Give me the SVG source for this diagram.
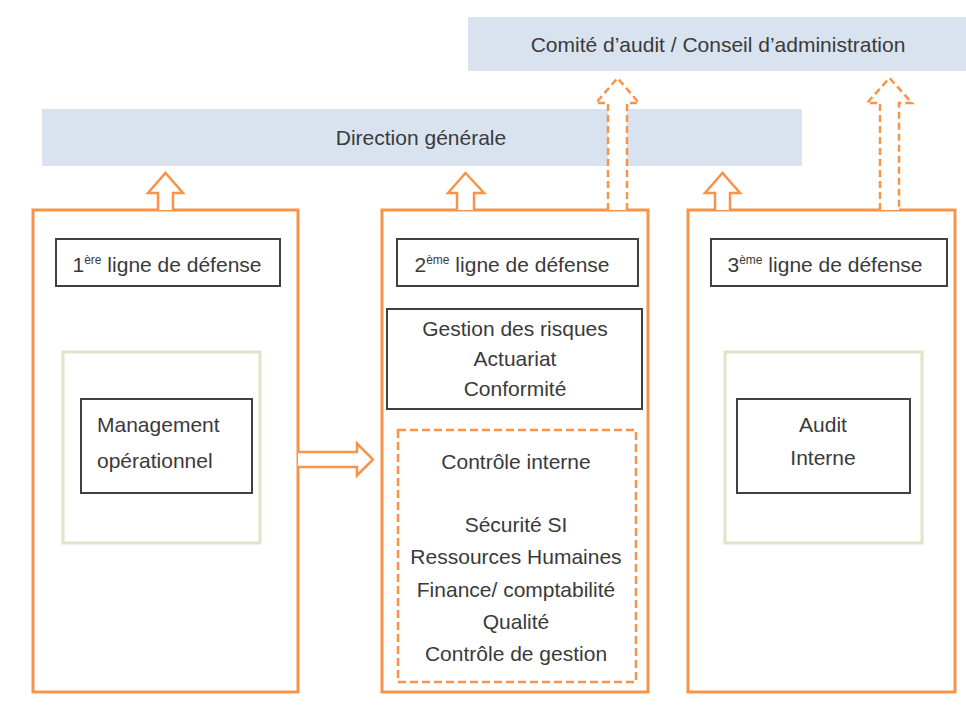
<svg xmlns="http://www.w3.org/2000/svg" width="966" height="709" viewBox="0 0 966 709">
<style>
  text { font-family: "Liberation Sans", Arial, sans-serif; font-size: 21px; fill: #3a3a3a; }
  .c { text-anchor: middle; }
  .bar { fill: #D9E3EF; stroke: none; }
  .col { fill: #ffffff; stroke: #F7944A; stroke-width: 3; }
  .green { fill: #ffffff; stroke: #DCE6C8; stroke-width: 3; }
  .blk { fill: #ffffff; stroke: #404040; stroke-width: 2; }
  .dash { fill: none; stroke: #F7944A; stroke-width: 2.5; stroke-dasharray: 8 4; }
  .arr { fill: #ffffff; stroke: #F7944A; stroke-width: 2.5; stroke-linejoin: miter; }
  .darr { fill: #ffffff; stroke: #F7944A; stroke-width: 2.5; stroke-dasharray: 7 4; }
  .sup { font-size: 12px; }
</style>
<rect width="966" height="709" fill="#ffffff"/>

<g id="comite">
  <rect class="bar" x="468" y="17" width="498" height="54"/>
  <text class="c" x="718" y="52">Comité d’audit / Conseil d’administration</text>
</g>

<g id="direction">
  <rect class="bar" x="42" y="109" width="760" height="57"/>
  <text class="c" x="421" y="145">Direction générale</text>
</g>

<g id="ligne1">
  <rect class="col" x="33" y="210" width="265" height="482"/>
  <rect class="blk" x="56" y="239" width="224" height="47"/>
  <text class="c" x="167" y="272">1<tspan class="sup" dy="-8">ère</tspan><tspan dy="8"> ligne de défense</tspan></text>
  <rect class="green" x="63" y="352" width="197" height="191"/>
  <rect class="blk" x="81" y="399" width="171" height="94"/>
  <text x="97" y="432">Management</text>
  <text x="97" y="468">opérationnel</text>
</g>

<g id="ligne2">
  <rect class="col" x="382" y="210" width="266" height="482"/>
  <rect class="blk" x="397" y="239" width="241" height="47"/>
  <text class="c" x="512" y="272">2<tspan class="sup" dy="-8">ème</tspan><tspan dy="8"> ligne de défense</tspan></text>
  <rect class="blk" x="387" y="309" width="255" height="100"/>
  <text class="c" x="515" y="336">Gestion des risques</text>
  <text class="c" x="515" y="366">Actuariat</text>
  <text class="c" x="515" y="396">Conformité</text>
  <rect class="dash" x="398" y="430" width="238" height="252"/>
  <text class="c" x="516" y="469">Contrôle interne</text>
  <text class="c" x="516" y="532">Sécurité SI</text>
  <text class="c" x="516" y="564">Ressources Humaines</text>
  <text class="c" x="516" y="597">Finance/ comptabilité</text>
  <text class="c" x="516" y="629">Qualité</text>
  <text class="c" x="516" y="661">Contrôle de gestion</text>
</g>

<g id="ligne3">
  <rect class="col" x="688" y="210" width="267" height="482"/>
  <rect class="blk" x="711" y="239" width="236" height="47"/>
  <text class="c" x="825" y="272">3<tspan class="sup" dy="-8">ème</tspan><tspan dy="8"> ligne de défense</tspan></text>
  <rect class="green" x="725" y="352" width="197" height="191"/>
  <rect class="blk" x="737" y="399" width="173" height="94"/>
  <text class="c" x="823" y="432">Audit</text>
  <text class="c" x="823" y="465">Interne</text>
</g>

<g id="connectors">
  <path class="arr" d="M158,210 V193 H148 L165.5,173 L183,193 H173 V210"/>
  <path class="arr" d="M457,210 V193 H448 L465.5,173 L484,193 H474 V210"/>
  <path class="arr" d="M715,210 V193 H705 L722.5,173 L740,193 H730 V210"/>
  <path class="darr" d="M608,210 V103 H596 L617.5,78 L639,103 H627 V210"/>
  <path class="darr" d="M880,210 V103 H867 L889.5,78 L912,103 H899 V210"/>
  <path class="arr" d="M298,452 H357 V443.5 L373,459.5 L357,475.5 V467 H298"/>
</g>
</svg>
